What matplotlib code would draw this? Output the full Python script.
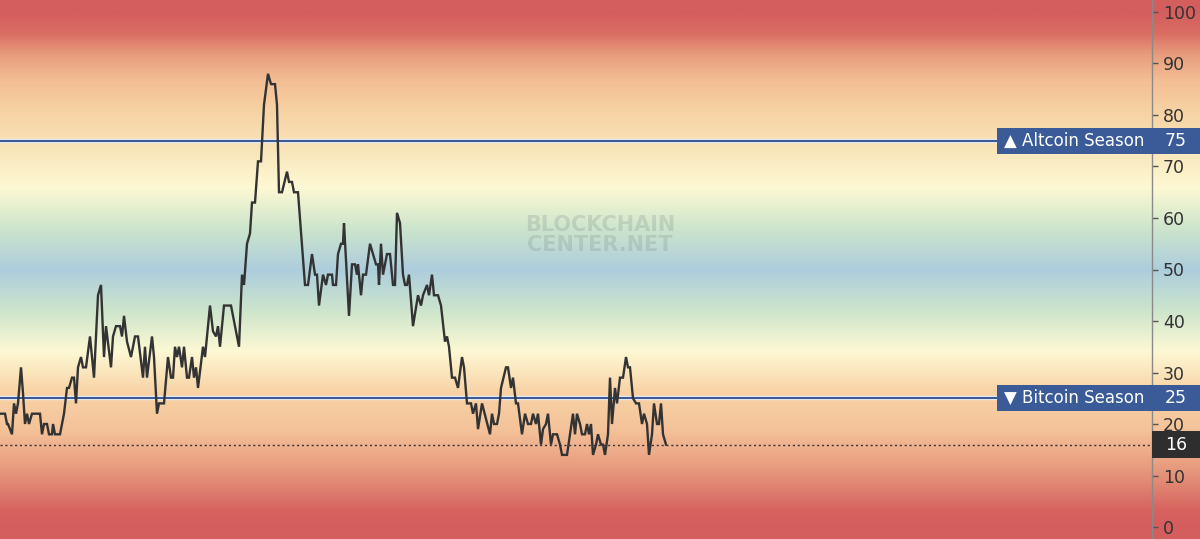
import numpy as np
import matplotlib.pyplot as plt
from matplotlib.colors import LinearSegmentedColormap
from matplotlib.patches import Rectangle
import matplotlib.transforms as mtransforms

# Altcoin season index, vertices (t = position along the time axis)
t = [0, 5, 7, 8, 12, 14, 16, 18, 21, 23, 25, 27, 29, 32, 40, 42, 44, 47, 49, 52,
     53, 55, 60, 64, 67, 69, 72, 74, 76, 78, 81, 83, 86, 90, 94, 98, 101, 104, 106, 111,
     113, 116, 120, 122, 124, 127, 131, 135, 138, 143, 145, 147, 152, 154, 157, 159, 164, 168, 171, 173,
     175, 177, 179, 182, 184, 187, 189, 192, 194, 196, 198, 203, 205, 210, 213, 216, 218, 220, 224, 231,
     233, 235, 239, 242, 244, 247, 250, 252, 255, 258, 261, 264, 268, 271, 275, 277, 279, 282, 287, 289,
     292, 294, 298, 305, 308, 312, 315, 317, 319, 323, 326, 328, 332, 333, 336, 338, 341, 343, 344, 349,
     352, 355, 357, 358, 361, 363, 366, 370, 373, 376, 378, 379, 381, 383, 387, 390, 393, 395, 397, 400,
     403, 405, 407, 409, 413, 418, 421, 423, 427, 429, 432, 434, 438, 441, 445, 447, 449, 452, 455, 458,
     462, 464, 467, 471, 473, 476, 478, 482, 486, 490, 492, 494, 497, 499, 501, 506, 508, 511, 513, 516,
     518, 520, 522, 525, 528, 531, 533, 536, 538, 541, 543, 546, 548, 551, 553, 557, 560, 562, 567, 570,
     573, 575, 577, 580, 582, 585, 587, 589, 591, 593, 596, 598, 601, 603, 605, 608, 610, 612, 615, 617,
     620, 623, 626, 628, 630, 633, 636, 639, 642, 644, 647, 649, 652, 654, 657, 659, 661, 663, 666]
index = [22, 22, 20, 20, 18, 24, 22, 24, 31, 26, 20, 22, 20, 22, 22, 18, 20, 20, 18, 18,
         20, 18, 18, 22, 27, 27, 29, 29, 24, 31, 33, 31, 31, 37, 29, 45, 47, 33, 39, 31,
         37, 39, 39, 37, 41, 36, 33, 37, 37, 29, 35, 29, 37, 33, 22, 24, 24, 33, 29, 29,
         35, 33, 35, 31, 35, 29, 29, 33, 29, 31, 27, 35, 33, 43, 38, 37, 39, 35, 43, 43,
         41, 39, 35, 49, 47, 55, 57, 63, 63, 71, 71, 82, 88, 86, 86, 82, 65, 65, 69, 67,
         67, 65, 65, 47, 47, 53, 49, 49, 43, 49, 47, 49, 49, 47, 47, 53, 55, 55, 59, 41,
         51, 51, 49, 51, 45, 49, 49, 55, 53, 51, 51, 47, 55, 49, 53, 53, 47, 47, 61, 59,
         49, 47, 47, 49, 39, 45, 43, 45, 47, 45, 49, 45, 45, 43, 36, 37, 35, 29, 29, 27,
         33, 31, 24, 24, 22, 24, 19, 24, 21, 18, 22, 20, 20, 22, 27, 31, 31, 27, 29, 24,
         24, 21, 18, 22, 20, 20, 22, 20, 22, 16, 19, 20, 22, 16, 18, 18, 16, 14, 14, 18,
         22, 18, 22, 20, 18, 18, 20, 18, 20, 14, 16, 18, 16, 16, 14, 18, 29, 20, 27, 24,
         29, 29, 33, 31, 31, 25, 24, 24, 20, 22, 20, 14, 18, 24, 20, 20, 24, 18, 16]

altcoin_level = 75
bitcoin_level = 25
current = 16
y_ticks = [0, 10, 20, 30, 40, 50, 60, 70, 80, 90, 100]

# background gradient stops (value, colour)
grad_stops = [(0, "#d45e5e"), (3, "#d66360"), (8, "#e08672"), (13, "#eba585"),
              (19, "#f4c39a"), (26, "#f8d2a5"), (34, "#fdf9d4"), (42, "#cde5cc"),
              (50, "#adcddd"), (58, "#cde5cc"), (66, "#fdf9d4"), (74, "#f9e4b8"),
              (81, "#f7d2a3"), (87, "#f3be94"), (92, "#e89c7c"), (96, "#da6e63"),
              (100, "#d45e5e")]

W, H = 1200, 539
ymin, ymax = -2.33, 102.33
xmax = 1152

fig = plt.figure(figsize=(W / 100, H / 100), dpi=100)

cmap = LinearSegmentedColormap.from_list(
    "season", [(v / 100, c) for v, c in grad_stops])
grad = np.linspace(ymin, ymax, 800).reshape(-1, 1)

bg = fig.add_axes([0, 0, 1, 1])
bg.imshow(np.clip(grad, 0, 100), cmap=cmap, vmin=0, vmax=100, aspect="auto",
          origin="lower", extent=[0, 1, ymin, ymax])
bg.set_xlim(0, 1)
bg.set_ylim(ymin, ymax)
bg.axis("off")

ax = fig.add_axes([0, 0, xmax / W, 1])
ax.patch.set_alpha(0)
ax.set_xlim(0, xmax)
ax.set_ylim(ymin, ymax)

# watermark
ax.text(600, 56.7, "BLOCKCHAIN\nCENTER.NET", ha="center", va="center",
        fontsize=15, fontweight="bold", color="#7d8c8c", alpha=0.25,
        linespacing=0.95, family="DejaVu Sans", zorder=1)

# season lines
for lvl in (altcoin_level, bitcoin_level):
    ax.axhline(lvl, color="#e8eef8", linewidth=3.2, zorder=2)
    ax.axhline(lvl, color="#3d5a92", linewidth=1.5, zorder=3)
ax.axhline(current, color="#333333", linewidth=1, linestyle=(0, (1.5, 2)), zorder=3)

ax.plot(t, index, color="#333333", linewidth=1.7, zorder=4, solid_joinstyle="miter")

# right axis
for s in ("left", "top", "bottom"):
    ax.spines[s].set_visible(False)
ax.spines["right"].set_color("#8a8a8a")
ax.spines["right"].set_linewidth(1)
ax.set_xticks([])
ax.yaxis.tick_right()
ax.set_yticks(y_ticks)
ax.tick_params(axis="y", length=4, width=1, color="#555555", pad=4,
               labelsize=12.5, labelcolor="#333333")

# labels on the lines
trans = mtransforms.blended_transform_factory(ax.transAxes, ax.transData)
box_blue = "#3a5a98"
right_end = W / xmax
lab_start = 997 / xmax
for lvl, txt in ((altcoin_level, "\u25B2 Altcoin Season"),
                 (bitcoin_level, "\u25BC Bitcoin Season")):
    ax.add_patch(Rectangle((lab_start, lvl - 2.55), 1 - lab_start, 5.1,
                           transform=trans, facecolor=box_blue, edgecolor="none",
                           zorder=5, clip_on=False))
    ax.add_patch(Rectangle((1, lvl - 2.55), right_end - 1, 5.1,
                           transform=trans, facecolor=box_blue, edgecolor="none",
                           zorder=5, clip_on=False))
    ax.text((lab_start + 1) / 2, lvl, txt, transform=trans, ha="center", va="center",
            color="white", fontsize=12, zorder=6, clip_on=False)
    ax.text((1 + right_end) / 2, lvl, str(lvl), transform=trans, ha="center",
            va="center", color="white", fontsize=12.5, zorder=6, clip_on=False)

ax.add_patch(Rectangle((1, current - 2.55), right_end - 1, 5.1, transform=trans,
                       facecolor="#2e2e2e", edgecolor="none", zorder=5, clip_on=False))
ax.text((1 + right_end) / 2, current, str(current), transform=trans, ha="center",
        va="center", color="white", fontsize=12.5, zorder=6, clip_on=False)

fig.savefig("out.png", dpi=100)
